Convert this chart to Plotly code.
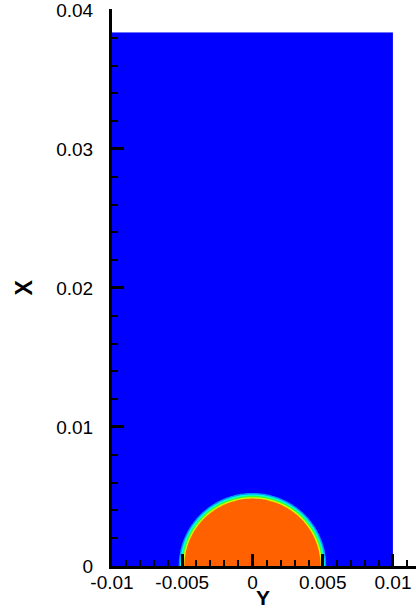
import numpy as np
import plotly.graph_objects as go

# Domain
y_span = [-0.01, 0.01]        # horizontal coordinate "Y"
x_span = [0.0, 0.0384]        # vertical coordinate "X"
cell = 0.0001

# Droplet parameters
drop_center = [0.0, 0.0]      # (Y, X)
drop_radius = 0.00505
interface_width = 0.0005

# Axis ticks
y_ticks = [-0.01, -0.005, 0, 0.005, 0.01]
y_tick_labels = ["-0.01", "-0.005", "0", "0.005", "0.01"]
x_ticks = [0, 0.01, 0.02, 0.03, 0.04]
x_tick_labels = ["0", "0.01", "0.02", "0.03", "0.04"]

colorscale = [
    [0.0, "#0000FF"],
    [0.2, "#0096FF"],
    [0.4, "#00FFE0"],
    [0.6, "#30FF40"],
    [0.8, "#D0FF00"],
    [1.0, "#FF6000"],
]

yy = np.arange(y_span[0], y_span[1] + cell / 2, cell)
xx = np.arange(x_span[0], x_span[1] + cell / 2, cell)
YY, XX = np.meshgrid(yy, xx)
r = np.sqrt((YY - drop_center[0]) ** 2 + (XX - drop_center[1]) ** 2)
alpha = np.clip((drop_radius - r) / interface_width + 0.5, 0.0, 1.0)

fig = go.Figure()
fig.add_trace(go.Contour(
    x=yy, y=xx, z=alpha,
    colorscale=colorscale, zmin=0, zmax=1,
    contours=dict(start=0.1, end=0.9, size=0.2, coloring="fill", showlines=False),
    line=dict(width=0),
    showscale=False,
    hoverinfo="skip",
))

axis_font = dict(family="Liberation Sans, Arial, sans-serif", size=19, color="black")

fig.update_layout(
    width=416, height=610,
    margin=dict(l=112, r=0, t=9, b=44),
    paper_bgcolor="white", plot_bgcolor="white",
    showlegend=False,
    xaxis=dict(
        range=[-0.01, 0.01164], showgrid=False, zeroline=False,
        showline=True, linecolor="black", linewidth=3,
        tickmode="array", tickvals=y_ticks, ticktext=y_tick_labels,
        ticks="inside", ticklen=12, tickwidth=3, tickcolor="black",
        minor=dict(dtick=0.001, ticks="inside", ticklen=6, tickwidth=2, tickcolor="black", showgrid=False),
        tickfont=axis_font, ticklabelstandoff=-3, ticklabeloverflow="allow",
    ),
    yaxis=dict(
        range=[0, 0.04007], showgrid=False, zeroline=False,
        showline=True, linecolor="black", linewidth=3,
        tickmode="array", tickvals=x_ticks, ticktext=x_tick_labels,
        ticks="inside", ticklen=12, tickwidth=3, tickcolor="black",
        minor=dict(dtick=0.002, ticks="inside", ticklen=6, tickwidth=2, tickcolor="black", showgrid=False),
        tickfont=axis_font, ticklabelstandoff=12, ticklabeloverflow="allow",
    ),
    annotations=[
        dict(text="<b>Y</b>", xref="paper", yref="paper", x=(263 - 112) / 304, y=-(597 - 566) / 557,
             xanchor="center", yanchor="middle", showarrow=False,
             font=dict(family="Liberation Sans, Arial, sans-serif", size=21, color="black")),
        dict(text="<b>X</b>", xref="paper", yref="paper", x=(23 - 112) / 304, y=0.5,
             xanchor="center", yanchor="middle", showarrow=False, textangle=-90,
             font=dict(family="Liberation Sans, Arial, sans-serif", size=23, color="black")),
    ],
)

fig.write_html("out.html")
